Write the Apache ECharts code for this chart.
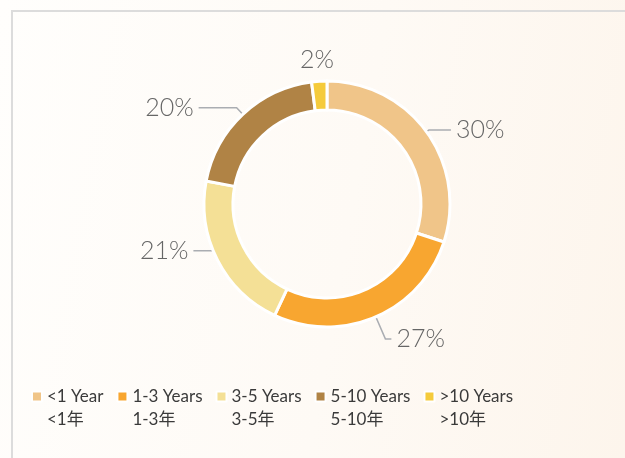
<!DOCTYPE html>
<html>
<head>
<meta charset="utf-8">
<script src="https://cdn.jsdelivr.net/npm/echarts@6/dist/echarts.min.js"></script>
<style>
  html, body { margin: 0; padding: 0; width: 625px; height: 458px; overflow: hidden; }
  body { background: linear-gradient(100deg, #fffefc 0%, #fefaf5 55%, #fdf5ec 100%); position: relative; }
  #card { position: absolute; left: 11px; top: 10px; width: 700px; height: 500px; border-left: 2px solid #dcdcdc; border-top: 2px solid #dcdcdc; }
  #chart { position: absolute; left: 0; top: 0; width: 625px; height: 458px; }
</style>
</head>
<body>
<div id="card"></div>
<div id="chart"></div>
<script>
const categoriesEn = ['<1 Year', '1-3 Years', '3-5 Years', '5-10 Years', '>10 Years'];
const categoriesZh = ['<1年', '1-3年', '3-5年', '5-10年', '>10年'];
const shares = [30, 27, 21, 20, 2];
const colors = ['#F0C589', '#F8A630', '#F4E096', '#B08345', '#F5CB3C'];

// per-slice leader line styling (radial part, horizontal part)
const leaderStyles = [
  { length: 3, length2: 22, show: true, showAbove: true },
  { length: 24, length2: 6, show: true, showAbove: true },
  { length: 0, length2: 24, show: true, showAbove: true },
  { length: 9, length2: 38, show: true, showAbove: true },
  { length: 21, length2: 0, show: false }
];
// small label nudges
const labelNudges = [{}, {}, { dy: -9 }, {}, { dx: 21 }];
const pieCenter = [327, 204];
const leaderInset = 13; // leader lines start inside the ring band

function layoutLabel(p) {
  const n = labelNudges[p.dataIndex];
  const out = Object.assign({}, n);
  const pts = p.labelLinePoints;
  if (pts && pts.length) {
    const dy = n.dy || 0;
    const moved = pts.map(pt => [pt[0], pt[1] + dy]);
    // the point nearest the centre is the one on the slice
    let k = 0, best = Infinity;
    pts.forEach((pt, i) => {
      const d = Math.hypot(pt[0] - pieCenter[0], pt[1] - pieCenter[1]);
      if (d < best) { best = d; k = i; }
    });
    const vx = pts[k][0] - pieCenter[0], vy = pts[k][1] - pieCenter[1];
    const len = Math.hypot(vx, vy) || 1;
    moved[k] = [pts[k][0] - vx / len * leaderInset, pts[k][1] - vy / len * leaderInset + dy];
    out.labelLinePoints = moved;
  }
  return out;
}

const names = categoriesEn.map((en, i) => en + '\n' + categoriesZh[i]);
const data = names.map((n, i) => ({
  name: n,
  value: shares[i],
  itemStyle: { color: colors[i] },
  labelLine: leaderStyles[i]
}));

const chart = echarts.init(document.getElementById('chart'), null, { renderer: 'canvas' });
chart.setOption({
  backgroundColor: 'transparent',
  animation: false,
  legend: {
    left: 26,
    top: 357,
    itemWidth: 10,
    itemHeight: 10,
    itemGap: 13,
    icon: 'rect',
    data: names,
    formatter: n => ' \n' + n,
    textStyle: {
      fontFamily: 'Lato, "Noto Sans CJK SC", sans-serif',
      fontSize: 17,
      color: '#3a3a3a',
      lineHeight: 23
    }
  },
  series: [{
    type: 'pie',
    center: pieCenter,
    radius: [94, 123],
    startAngle: 90,
    clockwise: true,
    avoidLabelOverlap: false,
    itemStyle: { borderColor: '#ffffff', borderWidth: 3 },
    label: {
      show: true,
      position: 'outside',
      formatter: p => p.value + '%',
      fontFamily: 'Lato, sans-serif',
      fontWeight: 300,
      fontSize: 25,
      color: '#666'
    },
    labelLine: {
      show: true,
      showAbove: true,
      lineStyle: { color: '#aaadb2', width: 1.5 }
    },
    labelLayout: layoutLabel,
    emphasis: { disabled: true },
    data: data
  }]
});
</script>
</body>
</html>
